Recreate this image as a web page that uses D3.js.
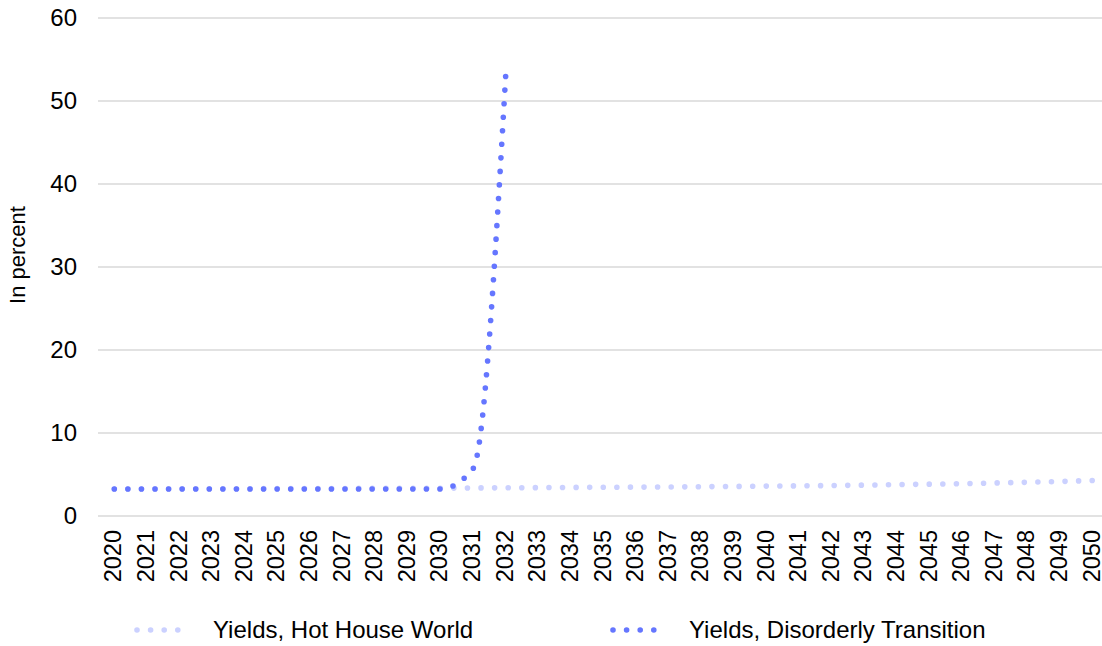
<!DOCTYPE html>
<html>
<head>
<meta charset="utf-8">
<script src="https://cdn.jsdelivr.net/npm/d3@7"></script>
<style>
  body { margin: 0; background: #fff; }
  svg { display: block; font-family: "Liberation Sans", Arial, sans-serif; }
</style>
</head>
<body>
<div id="chart"></div>
<script>
// data
var years = d3.range(2020, 2051).map(String)
var yTicks = [0, 10, 20, 30, 40, 50, 60]
var hotHouse = [3.25, 3.26, 3.27, 3.28, 3.29, 3.3, 3.31, 3.32, 3.33, 3.34, 3.35,
  3.38, 3.4, 3.42, 3.44, 3.46, 3.48, 3.5, 3.53, 3.56, 3.6,
  3.63, 3.67, 3.72, 3.78, 3.84, 3.9, 3.98, 4.06, 4.16, 4.28]
var disorderly = [3.25, 3.25, 3.25, 3.25, 3.25, 3.25, 3.25, 3.25, 3.25, 3.25, 3.25,
  5.7, 53.0]
var seriesNames = ['Yields, Hot House World', 'Yields, Disorderly Transition']
var seriesColors = ['#CBD1FF', '#6576FF']

var width = 1102
var height = 646

var svg = d3
  .select('#chart')
  .append('svg')
  .attr('width', width)
  .attr('height', height)

var x = d3.scalePoint().domain(years).range([98, 1109]).padding(0.5)
var y = d3.scaleLinear().domain([0, 60]).range([516, 18])

// gridlines
svg
  .append('g')
  .selectAll('line')
  .data(yTicks)
  .join('line')
  .attr('x1', 98)
  .attr('x2', width)
  .attr('y1', (d) => y(d))
  .attr('y2', (d) => y(d))
  .attr('stroke', '#d9d9d9')
  .attr('stroke-width', 1.5)

// y tick labels
svg
  .append('g')
  .selectAll('text')
  .data(yTicks)
  .join('text')
  .attr('x', 77)
  .attr('y', (d) => y(d))
  .attr('dy', '0.35em')
  .attr('text-anchor', 'end')
  .attr('font-size', 24)
  .attr('fill', '#000')
  .text((d) => d)

// y title
svg
  .append('text')
  .attr('transform', 'translate(25,255) rotate(-90)')
  .attr('text-anchor', 'middle')
  .attr('font-size', 22)
  .attr('fill', '#000')
  .text('In percent')

// x tick labels
svg
  .append('g')
  .selectAll('text')
  .data(years)
  .join('text')
  .attr('transform', (d) => 'translate(' + (x(d) + 7) + ',530) rotate(-90)')
  .attr('text-anchor', 'end')
  .attr('font-size', 23.5)
  .attr('fill', '#000')
  .text((d) => d)

var line = d3
  .line()
  .x((d, i) => x(years[i]))
  .y((d) => y(d))
  .curve(d3.curveMonotoneX)

var gap = 13.6

svg
  .append('g')
  .attr('fill', 'none')
  .attr('stroke-linecap', 'round')
  .attr('stroke-width', 5.6)
  .selectAll('path')
  .data([hotHouse, disorderly])
  .join('path')
  .attr('stroke', (d, i) => seriesColors[i])
  .attr('d', line)
  .attr('stroke-dasharray', function () {
    // tweak the gap so a dot lands close to the end of the line
    var len = this.getTotalLength()
    var n = Math.round(len / gap)
    return '0,' + (len - 0.5) / n
  })

// legend
var legendX = [137, 613]
var legend = svg
  .append('g')
  .selectAll('g')
  .data(seriesNames)
  .join('g')
  .attr('transform', (d, i) => 'translate(' + legendX[i] + ',630)')

legend
  .append('line')
  .attr('x1', 0)
  .attr('x2', 54.4)
  .attr('stroke', (d, i) => seriesColors[i])
  .attr('stroke-width', 5.6)
  .attr('stroke-linecap', 'round')
  .attr('stroke-dasharray', '0,' + gap)

legend
  .append('text')
  .attr('x', 76)
  .attr('dy', '0.35em')
  .attr('font-size', 24)
  .attr('fill', '#000')
  .text((d) => d)
</script>
</body>
</html>
